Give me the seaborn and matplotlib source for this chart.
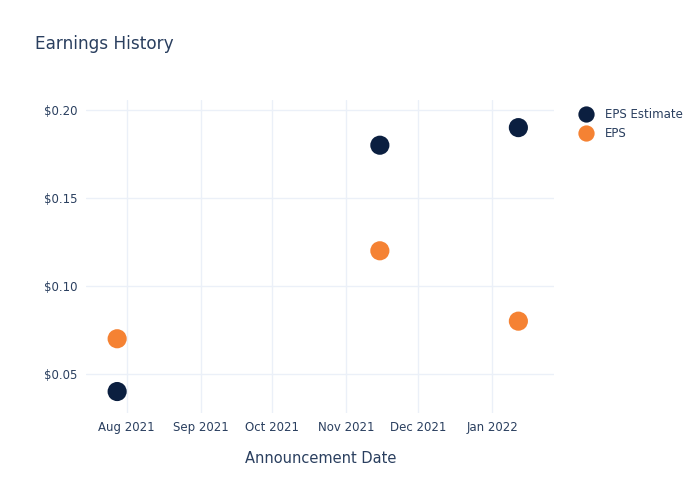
import pandas as pd
import matplotlib.pyplot as plt
import matplotlib.dates as mdates
from matplotlib.ticker import FuncFormatter
import seaborn as sns

# Data
dates = ["2021-07-28", "2021-11-15", "2022-01-12"]
eps_estimate = [0.04, 0.18, 0.19]
eps_actual = [0.07, 0.12, 0.08]

df = pd.DataFrame({
    "date": pd.to_datetime(dates * 2),
    "value": eps_estimate + eps_actual,
    "series": ["EPS Estimate"] * 3 + ["EPS"] * 3,
})

text_color = "#2a3f5f"
sns.set_theme(style="white")
plt.rcParams["font.family"] = ["DejaVu Sans"]

fig = plt.figure(figsize=(7, 5), dpi=100)
ax = fig.add_axes([0.123, 0.174, 0.669, 0.626])

sns.scatterplot(data=df, x="date", y="value", hue="series",
                palette={"EPS Estimate": "#0b1f40", "EPS": "#f58233"},
                s=190, linewidth=0, ax=ax, zorder=3)

ax.set_xlim(pd.Timestamp("2021-07-15 00:00"), pd.Timestamp("2022-01-27 02:00"))
ax.set_ylim(0.0278, 0.2057)
ax.set_yticks([0.05, 0.10, 0.15, 0.20])
ax.yaxis.set_major_formatter(FuncFormatter(lambda v, p: f"${v:.2f}"))
ax.xaxis.set_major_locator(mdates.MonthLocator())
ax.xaxis.set_major_formatter(mdates.DateFormatter("%b %Y"))

ax.grid(True, color="#ebf0f8", linewidth=1)
ax.set_axisbelow(True)
for sp in ax.spines.values():
    sp.set_visible(False)
ax.tick_params(axis="both", length=0, labelsize=8.5, colors=text_color, pad=6)

ax.set_xlabel("Announcement Date", fontsize=10.5, color=text_color, labelpad=12)
ax.set_ylabel("")
fig.text(0.05, 0.912, "Earnings History", fontsize=12.2, color=text_color, va="center")

leg = ax.legend(loc="upper left", bbox_to_anchor=(1.02, 1.008), frameon=False,
                fontsize=8.5, handletextpad=0.6, labelspacing=0.5, markerscale=0.85)
for t in leg.get_texts():
    t.set_color(text_color)

fig.savefig("out.png", dpi=100)
